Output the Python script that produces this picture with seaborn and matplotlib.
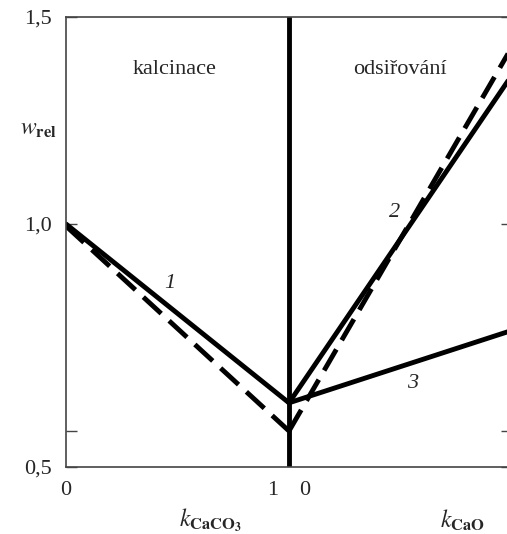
import matplotlib
matplotlib.use('Agg')
import matplotlib.pyplot as plt
import seaborn as sns

# kalcinace (left part): x = k_CaCO3
k_caco3 = [0.0, 1.0]
w_1_solid = [1.0, 0.568]
w_1_dash = [0.995, 0.5]

# odsirovani (right part): x = k_CaO, drawn shifted by 1
k_cao = [0.0, 1.0]
w_2_solid = [0.568, 1.36]
w_2_dash = [0.5, 1.428]
w_3_solid = [0.568, 0.743]

y_min, y_max = 0.413, 1.5
ytick_pos = [y_min, 1.0, y_max]
ytick_labels = ['0,5', '1,0', '1,5']
xtick_pos = [0.0, 0.928, 1.072]
xtick_labels = ['0', '1', '0']

sns.set_style('white')
plt.rcParams['font.family'] = ['Liberation Serif', 'DejaVu Serif']
plt.rcParams['mathtext.fontset'] = 'stix'

fig = plt.figure(figsize=(5.07, 5.34), dpi=100)
ax = fig.add_axes([66 / 507, 67 / 534, 446 / 507, 450 / 534])

lw = 3.5
shift = [k + 1 for k in k_cao]
sns.lineplot(x=k_caco3, y=w_1_solid, ax=ax, color='k', lw=lw)
sns.lineplot(x=k_caco3, y=w_1_dash, ax=ax, color='k', lw=lw)
ax.lines[-1].set_dashes((5, 2.2))
sns.lineplot(x=shift, y=w_2_solid, ax=ax, color='k', lw=lw)
sns.lineplot(x=shift, y=w_2_dash, ax=ax, color='k', lw=lw)
ax.lines[-1].set_dashes((5, 2.2))
sns.lineplot(x=shift, y=w_3_solid, ax=ax, color='k', lw=lw)
ax.axvline(1.0, color='k', lw=lw)

ax.set_xlim(0, 2)
ax.set_ylim(y_min, y_max)
ax.set_yticks(ytick_pos, ytick_labels)
ax.set_yticks([0.5], minor=True)
ax.set_xticks(xtick_pos, xtick_labels)
ax.tick_params(axis='y', which='both', direction='in', length=8, width=1,
               color='#444444', right=True, left=True, labelsize=16, pad=10)
ax.tick_params(axis='x', length=0, labelsize=16, pad=10)

for side in ['left', 'bottom', 'top']:
    ax.spines[side].set_color('#444444')
    ax.spines[side].set_linewidth(1.2)
ax.spines['right'].set_visible(False)

ax.text(0.489, 1.372, 'kalcinace', fontsize=16, ha='center', va='center')
ax.text(1.498, 1.372, 'odsiřování', fontsize=16, ha='center', va='center')
ax.text(0.466, 0.857, '1', fontsize=16, style='italic', ha='center', va='center')
ax.text(1.475, 1.027, '2', fontsize=16, style='italic', ha='center', va='center')
ax.text(1.552, 0.614, '3', fontsize=16, style='italic', ha='center', va='center')

fig.text(38 / 507, 1 - 130 / 534, r'$w_{\mathbf{rel}}$', fontsize=17, ha='center', va='center')
fig.text(211 / 507, 1 - 520 / 534, r'$k_{\mathbf{CaCO}_\mathbf{3}}$', fontsize=17, ha='center', va='center')
fig.text(462 / 507, 1 - 520 / 534, r'$k_{\mathbf{CaO}}$', fontsize=17, ha='center', va='center')

fig.savefig('out.png', dpi=100)
